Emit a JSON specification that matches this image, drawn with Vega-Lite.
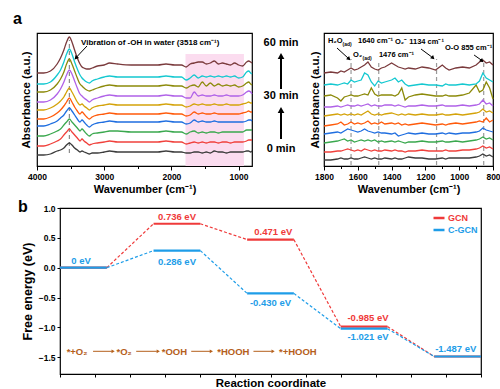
{
"$schema":"https://vega.github.io/schema/vega-lite/v6.json",
"padding":{"left":12,"top":10,"right":0,"bottom":0},
"config":{"font":"Liberation Sans","view":{"stroke":"#000","strokeWidth":1.2},
 "axis":{"labelFont":"Liberation Sans","titleFont":"Liberation Sans","labelFontWeight":"bold","titleFontWeight":"bold","labelColor":"#000","titleColor":"#000","tickColor":"#000","tickWidth":1,"domain":false,"grid":false,"labelFontSize":8.5,"titleFontSize":11.5,"labelFlush":false,"labelOverlap":false}},
"spacing":2,
"resolve":{"scale":{"color":"independent"},"legend":{"color":"independent"}},
"vconcat":[
{"hconcat":[
 {"width":215,"height":133,
  "encoding":{
   "x":{"field":"x","type":"quantitative","scale":{"domain":[800,4000],"reverse":true,"nice":false,"zero":false},
        "axis":{"title":"Wavenumber (cm⁻¹)","titleFontSize":11,"values":[1000,1500,2000,2500,3000,3500,4000],"format":"d","labelExpr":"datum.value % 1000 === 0 ? datum.label : ''","tickSize":{"condition":{"test":"datum.value % 1000 === 0","value":4},"value":2.5},"labelPadding":2,"titlePadding":3}},
   "y":{"field":"y","type":"quantitative","scale":{"domain":[0,133],"nice":false,"zero":false},
        "axis":{"title":"Absorbance (a.u.)","labels":false,"ticks":false,"minExtent":0,"titlePadding":6}}},
  "layer":[
   {"data":{"values":[{"x":1790,"x2":920,"y":0,"y2":112}]},"mark":{"type":"rect","color":"#fbdcef"},"encoding":{"x2":{"field":"x2"},"y2":{"field":"y2"}}},
   {"data":{"values":[{"x":3518,"y":13,"y2":126}]},"mark":{"type":"rule","color":"#8c8c8c","strokeDash":[4,3],"strokeWidth":1.2},"encoding":{"y2":{"field":"y2"}}},
   {"data":{"values":[
{"x":4000,"k0":11,"k1":20,"k2":30,"k3":40,"k4":47,"k5":56,"k6":64,"k7":74,"k8":82,"k9":93},
{"x":3900,"k0":11,"k1":20,"k2":30,"k3":40,"k4":47,"k5":56,"k6":64,"k7":74,"k8":82,"k9":93},
{"x":3800,"k0":12,"k1":22,"k2":32,"k3":42,"k4":49,"k5":58,"k6":66,"k7":76,"k8":84,"k9":95},
{"x":3700,"k0":15,"k1":25,"k2":35,"k3":45,"k4":53,"k5":62,"k6":72,"k7":82,"k8":91,"k9":102},
{"x":3650,"k0":16,"k1":27,"k2":37,"k3":48,"k4":56,"k5":65,"k6":77,"k7":87,"k8":96,"k9":108},
{"x":3600,"k0":18,"k1":31,"k2":41,"k3":51,"k4":60,"k5":69,"k6":84,"k7":94,"k8":104,"k9":116},
{"x":3560,"k0":21,"k1":34,"k2":44,"k3":55,"k4":64,"k5":74,"k6":91,"k7":102,"k8":112,"k9":124},
{"x":3518,"k0":23,"k1":37,"k2":47,"k3":58,"k4":68,"k5":78,"k6":96,"k7":107,"k8":117,"k9":129},
{"x":3480,"k0":21,"k1":34,"k2":44,"k3":55,"k4":64,"k5":74,"k6":92,"k7":102,"k8":112,"k9":124},
{"x":3440,"k0":18,"k1":31,"k2":41,"k3":51,"k4":59,"k5":69,"k6":85,"k7":95,"k8":104,"k9":116},
{"x":3400,"k0":16,"k1":28,"k2":38,"k3":47,"k4":55,"k5":64,"k6":78,"k7":88,"k8":97,"k9":108},
{"x":3360,"k0":14,"k1":25,"k2":35,"k3":44,"k4":52,"k5":61,"k6":72,"k7":82,"k8":91,"k9":102},
{"x":3330,"k0":15,"k1":27,"k2":37,"k3":46,"k4":54,"k5":62,"k6":70,"k7":80,"k8":88,"k9":99},
{"x":3300,"k0":14,"k1":25,"k2":35,"k3":44,"k4":52,"k5":60,"k6":68,"k7":78,"k8":86,"k9":98},
{"x":3260,"k0":13,"k1":23,"k2":32,"k3":41,"k4":49,"k5":58,"k6":66,"k7":76,"k8":84,"k9":97},
{"x":3220,"k0":12,"k1":21,"k2":30,"k3":39,"k4":47,"k5":56,"k6":64,"k7":75,"k8":83,"k9":97},
{"x":3180,"k0":13,"k1":22,"k2":32,"k3":41,"k4":49,"k5":58,"k6":66,"k7":76,"k8":85,"k9":98},
{"x":3100,"k0":13,"k1":23,"k2":33,"k3":43,"k4":51,"k5":60,"k6":68,"k7":78,"k8":87,"k9":100},
{"x":3000,"k0":14,"k1":24,"k2":34,"k3":44,"k4":52,"k5":61,"k6":70,"k7":80,"k8":89,"k9":101},
{"x":2920,"k0":15,"k1":25,"k2":35,"k3":45,"k4":53,"k5":62,"k6":71,"k7":81,"k8":90,"k9":103},
{"x":2800,"k0":14,"k1":24,"k2":35,"k3":44,"k4":52,"k5":61,"k6":70,"k7":80,"k8":89,"k9":102},
{"x":2600,"k0":14,"k1":24,"k2":34,"k3":44,"k4":52,"k5":61,"k6":70,"k7":80,"k8":89,"k9":101},
{"x":2400,"k0":14,"k1":24,"k2":34,"k3":44,"k4":52,"k5":61,"k6":70,"k7":80,"k8":89,"k9":101},
{"x":2200,"k0":14,"k1":24,"k2":34,"k3":44,"k4":52,"k5":61,"k6":70,"k7":80,"k8":89,"k9":101},
{"x":2080,"k0":15,"k1":25,"k2":35,"k3":45,"k4":53,"k5":62,"k6":71,"k7":81,"k8":90,"k9":102},
{"x":1950,"k0":14,"k1":24,"k2":34,"k3":44,"k4":52,"k5":61,"k6":70,"k7":80,"k8":89,"k9":101},
{"x":1850,"k0":14,"k1":24,"k2":34,"k3":44,"k4":52,"k5":61,"k6":70,"k7":80,"k8":89,"k9":101},
{"x":1780,"k0":13,"k1":22,"k2":32,"k3":42,"k4":50,"k5":59,"k6":68,"k7":78,"k8":86,"k9":99},
{"x":1720,"k0":13,"k1":23,"k2":34,"k3":43,"k4":51,"k5":60,"k6":68,"k7":80,"k8":88,"k9":102},
{"x":1660,"k0":14,"k1":24,"k2":35,"k3":46,"k4":54,"k5":62,"k6":74,"k7":81,"k8":91,"k9":103},
{"x":1600,"k0":14,"k1":23,"k2":33,"k3":44,"k4":52,"k5":61,"k6":70,"k7":79,"k8":88,"k9":104},
{"x":1540,"k0":13,"k1":24,"k2":34,"k3":45,"k4":53,"k5":62,"k6":71,"k7":84,"k8":90,"k9":104},
{"x":1480,"k0":14,"k1":23,"k2":33,"k3":44,"k4":52,"k5":61,"k6":70,"k7":80,"k8":89,"k9":102},
{"x":1420,"k0":13,"k1":24,"k2":34,"k3":44,"k4":52,"k5":61,"k6":70,"k7":83,"k8":90,"k9":103},
{"x":1360,"k0":15,"k1":24,"k2":34,"k3":45,"k4":53,"k5":62,"k6":71,"k7":80,"k8":89,"k9":105},
{"x":1300,"k0":14,"k1":23,"k2":33,"k3":44,"k4":52,"k5":61,"k6":70,"k7":82,"k8":90,"k9":102},
{"x":1240,"k0":14,"k1":24,"k2":34,"k3":44,"k4":52,"k5":61,"k6":70,"k7":80,"k8":89,"k9":103},
{"x":1180,"k0":13,"k1":24,"k2":34,"k3":44,"k4":52,"k5":62,"k6":71,"k7":81,"k8":90,"k9":102},
{"x":1120,"k0":14,"k1":23,"k2":34,"k3":44,"k4":52,"k5":61,"k6":70,"k7":80,"k8":89,"k9":101},
{"x":1060,"k0":14,"k1":24,"k2":34,"k3":44,"k4":52,"k5":61,"k6":70,"k7":81,"k8":90,"k9":103},
{"x":1000,"k0":14,"k1":24,"k2":34,"k3":44,"k4":52,"k5":61,"k6":70,"k7":79,"k8":88,"k9":101},
{"x":940,"k0":14,"k1":24,"k2":34,"k3":44,"k4":53,"k5":62,"k6":71,"k7":80,"k8":89,"k9":100},
{"x":880,"k0":15,"k1":25,"k2":36,"k3":45,"k4":54,"k5":63,"k6":74,"k7":83,"k8":94,"k9":104},
{"x":850,"k0":15,"k1":26,"k2":36,"k3":46,"k4":55,"k5":64,"k6":75,"k7":84,"k8":95,"k9":105},
{"x":820,"k0":14,"k1":26,"k2":36,"k3":46,"k4":54,"k5":63,"k6":74,"k7":82,"k8":93,"k9":104},
{"x":800,"k0":15,"k1":26,"k2":36,"k3":45,"k4":54,"k5":63,"k6":72,"k7":81,"k8":92,"k9":103}
   ]},
    "transform":[{"fold":["k0","k1","k2","k3","k4","k5","k6","k7","k8","k9"],"as":["s","y"]}],
    "mark":{"type":"line","strokeWidth":1.3,"interpolate":"monotone"},
    "encoding":{"color":{"field":"s","type":"nominal","legend":null,"scale":{"domain":["k0","k1","k2","k3","k4","k5","k6","k7","k8","k9"],"range":["#3c3c3c","#f0413c","#3aa84e","#1f6ee0","#ff5a0a","#d4a30a","#b062e8","#8c8a0a","#14c8d0","#7a3a3c"]}}}},
   {"data":{"values":[{"x":3345,"y":123,"t":"Vibration of -OH in water (3518 cm⁻¹)"}]},"mark":{"type":"text","align":"left","baseline":"middle","fontSize":8,"fontWeight":"bold","color":"#000"},"encoding":{"text":{"field":"t","type":"nominal"}}},
   {"data":{"values":[{"x":4357,"y":142,"t":"a"}]},"mark":{"type":"text","align":"left","baseline":"alphabetic","fontSize":16,"fontWeight":"bold","color":"#000"},"encoding":{"text":{"field":"t","type":"nominal"}}},
   {"data":{"values":[{"x":368,"y":123,"t":"60 min"},{"x":368,"y":70,"t":"30 min"},{"x":368,"y":17,"t":"0 min"}]},"mark":{"type":"text","align":"center","baseline":"middle","fontSize":11,"fontWeight":"bold","color":"#000"},"encoding":{"text":{"field":"t","type":"nominal"}}},
   {"data":{"values":[{"x":3256,"y":120,"x2":3410,"y2":109}]},"mark":{"type":"rule","color":"#000","strokeWidth":1},"encoding":{"x2":{"field":"x2"},"y2":{"field":"y2"}}},
   {"data":{"values":[{"x":3420,"y":108}]},"mark":{"type":"point","shape":"triangle-up","filled":true,"color":"#000","opacity":1,"size":22,"angle":222},"encoding":{}},
   {"data":{"values":[{"x":368,"y":77,"x2":368,"y2":108},{"x":368,"y":27,"x2":368,"y2":54}]},"mark":{"type":"rule","color":"#000","strokeWidth":2},"encoding":{"x2":{"field":"x2"},"y2":{"field":"y2"}}},
   {"data":{"values":[{"x":368,"y":110},{"x":368,"y":56}]},"mark":{"type":"point","shape":"triangle-up","filled":true,"color":"#000","opacity":1,"size":45},"encoding":{}}
  ]},
 {"width":169,"height":133,
  "encoding":{
   "x":{"field":"x","type":"quantitative","scale":{"domain":[800,1800],"reverse":true,"nice":false,"zero":false},
        "axis":{"title":"Wavenumber (cm⁻¹)","titleFontSize":11,"values":[800,900,1000,1100,1200,1300,1400,1500,1600,1700,1800],"format":"d","labelExpr":"datum.value % 200 === 0 ? datum.label : ''","tickSize":{"condition":{"test":"datum.value % 200 === 0","value":4},"value":2.5},"labelPadding":2,"titlePadding":3}},
   "y":{"field":"y","type":"quantitative","scale":{"domain":[0,133],"nice":false,"zero":false},
        "axis":{"title":"Absorbance (a.u.)","labels":false,"ticks":false,"minExtent":0,"titlePadding":4}}},
  "layer":[
   {"data":{"values":[{"x":1640,"y":1,"y2":107},{"x":1476,"y":1,"y2":105},{"x":1134,"y":1,"y2":107},{"x":855,"y":1,"y2":105}]},"mark":{"type":"rule","color":"#9a9a9a","strokeDash":[4,3],"strokeWidth":1.2},"encoding":{"y2":{"field":"y2"}}},
   {"data":{"values":[
{"x":1800,"k0":6,"k1":14,"k2":23,"k3":32,"k4":40,"k5":50,"k6":59,"k7":70,"k8":81,"k9":93},
{"x":1760,"k0":6,"k1":14,"k2":24,"k3":33,"k4":41,"k5":51,"k6":59,"k7":71,"k8":82,"k9":94},
{"x":1720,"k0":7,"k1":15,"k2":25,"k3":34,"k4":42,"k5":52,"k6":60,"k7":68,"k8":81,"k9":93},
{"x":1700,"k0":8,"k1":15,"k2":26,"k3":33,"k4":44,"k5":51,"k6":59,"k7":65,"k8":82,"k9":95},
{"x":1680,"k0":7,"k1":16,"k2":27,"k3":35,"k4":41,"k5":52,"k6":60,"k7":69,"k8":83,"k9":94},
{"x":1660,"k0":7,"k1":17,"k2":25,"k3":37,"k4":42,"k5":51,"k6":61,"k7":70,"k8":82,"k9":96},
{"x":1640,"k0":8,"k1":16,"k2":26,"k3":36,"k4":44,"k5":52,"k6":60,"k7":71,"k8":86,"k9":98},
{"x":1620,"k0":7,"k1":15,"k2":24,"k3":35,"k4":42,"k5":51,"k6":60,"k7":70,"k8":84,"k9":96},
{"x":1600,"k0":7,"k1":16,"k2":25,"k3":34,"k4":43,"k5":52,"k6":61,"k7":70,"k8":85,"k9":97},
{"x":1580,"k0":8,"k1":15,"k2":26,"k3":35,"k4":42,"k5":51,"k6":60,"k7":71,"k8":86,"k9":99},
{"x":1560,"k0":9,"k1":17,"k2":25,"k3":37,"k4":43,"k5":53,"k6":61,"k7":72,"k8":93,"k9":101},
{"x":1540,"k0":8,"k1":16,"k2":26,"k3":35,"k4":45,"k5":55,"k6":62,"k7":71,"k8":91,"k9":104},
{"x":1520,"k0":7,"k1":15,"k2":25,"k3":34,"k4":42,"k5":52,"k6":60,"k7":78,"k8":84,"k9":99},
{"x":1500,"k0":8,"k1":16,"k2":26,"k3":33,"k4":43,"k5":51,"k6":61,"k7":72,"k8":80,"k9":97},
{"x":1480,"k0":7,"k1":15,"k2":24,"k3":34,"k4":42,"k5":52,"k6":60,"k7":70,"k8":85,"k9":96},
{"x":1460,"k0":7,"k1":15,"k2":25,"k3":33,"k4":44,"k5":51,"k6":60,"k7":71,"k8":83,"k9":98},
{"x":1440,"k0":8,"k1":16,"k2":24,"k3":33,"k4":42,"k5":52,"k6":61,"k7":71,"k8":84,"k9":99},
{"x":1400,"k0":7,"k1":15,"k2":25,"k3":32,"k4":43,"k5":53,"k6":61,"k7":71,"k8":86,"k9":103},
{"x":1380,"k0":8,"k1":16,"k2":24,"k3":33,"k4":42,"k5":52,"k6":60,"k7":70,"k8":88,"k9":101},
{"x":1360,"k0":7,"k1":15,"k2":25,"k3":30,"k4":43,"k5":51,"k6":61,"k7":72,"k8":84,"k9":99},
{"x":1340,"k0":7,"k1":15,"k2":24,"k3":31,"k4":41,"k5":52,"k6":60,"k7":78,"k8":86,"k9":98},
{"x":1320,"k0":8,"k1":14,"k2":23,"k3":32,"k4":42,"k5":51,"k6":59,"k7":66,"k8":82,"k9":97},
{"x":1300,"k0":9,"k1":15,"k2":24,"k3":33,"k4":41,"k5":52,"k6":60,"k7":69,"k8":80,"k9":98},
{"x":1260,"k0":8,"k1":15,"k2":24,"k3":32,"k4":42,"k5":51,"k6":60,"k7":71,"k8":81,"k9":97},
{"x":1220,"k0":8,"k1":16,"k2":25,"k3":33,"k4":43,"k5":52,"k6":61,"k7":72,"k8":82,"k9":99},
{"x":1180,"k0":7,"k1":15,"k2":24,"k3":32,"k4":42,"k5":51,"k6":60,"k7":71,"k8":81,"k9":98},
{"x":1140,"k0":7,"k1":15,"k2":24,"k3":32,"k4":41,"k5":51,"k6":60,"k7":70,"k8":81,"k9":96},
{"x":1100,"k0":8,"k1":15,"k2":25,"k3":33,"k4":42,"k5":52,"k6":61,"k7":70,"k8":80,"k9":101},
{"x":1080,"k0":7,"k1":16,"k2":24,"k3":32,"k4":41,"k5":51,"k6":60,"k7":71,"k8":82,"k9":98},
{"x":1060,"k0":8,"k1":15,"k2":24,"k3":33,"k4":42,"k5":51,"k6":60,"k7":70,"k8":81,"k9":96},
{"x":1020,"k0":8,"k1":15,"k2":25,"k3":32,"k4":43,"k5":52,"k6":60,"k7":70,"k8":81,"k9":98},
{"x":980,"k0":8,"k1":16,"k2":24,"k3":33,"k4":42,"k5":51,"k6":61,"k7":71,"k8":82,"k9":99},
{"x":940,"k0":8,"k1":16,"k2":25,"k3":33,"k4":43,"k5":52,"k6":60,"k7":73,"k8":81,"k9":98},
{"x":900,"k0":9,"k1":17,"k2":26,"k3":34,"k4":44,"k5":53,"k6":61,"k7":81,"k8":82,"k9":101},
{"x":880,"k0":10,"k1":18,"k2":27,"k3":35,"k4":45,"k5":54,"k6":62,"k7":74,"k8":85,"k9":104},
{"x":860,"k0":12,"k1":20,"k2":29,"k3":38,"k4":44,"k5":57,"k6":66,"k7":76,"k8":93,"k9":106},
{"x":840,"k0":10,"k1":18,"k2":27,"k3":36,"k4":48,"k5":54,"k6":62,"k7":84,"k8":88,"k9":103},
{"x":820,"k0":11,"k1":19,"k2":28,"k3":35,"k4":44,"k5":55,"k6":63,"k7":78,"k8":86,"k9":104},
{"x":800,"k0":9,"k1":17,"k2":26,"k3":34,"k4":46,"k5":53,"k6":60,"k7":67,"k8":84,"k9":101}
   ]},
    "transform":[{"fold":["k0","k1","k2","k3","k4","k5","k6","k7","k8","k9"],"as":["s","y"]}],
    "mark":{"type":"line","strokeWidth":1.3},
    "encoding":{"color":{"field":"s","type":"nominal","legend":null,"scale":{"domain":["k0","k1","k2","k3","k4","k5","k6","k7","k8","k9"],"range":["#3c3c3c","#f0413c","#3aa84e","#1f6ee0","#ff5a0a","#d4a30a","#b062e8","#8c8a0a","#14c8d0","#7a3a3c"]}}}},
   {"data":{"values":[{"x":1776,"y":125,"t":"H₂O"},{"x":1599,"y":125,"t":"1640 cm⁻¹"},{"x":1628,"y":111,"t":"O₂"},{"x":1475,"y":111,"t":"1476 cm⁻¹"},{"x":1380,"y":124,"t":"O₂⁻ 1134 cm⁻¹"},{"x":1084,"y":118,"t":"O-O 855 cm⁻¹"}]},"mark":{"type":"text","align":"left","baseline":"middle","fontSize":7.5,"fontWeight":"bold","color":"#000"},"encoding":{"text":{"field":"t","type":"nominal"}}},
   {"data":{"values":[{"x":1690,"y":122,"t":"(ad)"},{"x":1572,"y":108,"t":"(ad)"}]},"mark":{"type":"text","align":"left","baseline":"middle","fontSize":5,"fontWeight":"bold","color":"#000"},"encoding":{"text":{"field":"t","type":"nominal"}}},
   {"data":{"values":[{"x":1723,"y":118,"x2":1658,"y2":108},{"x":1226,"y":117,"x2":1162,"y2":109},{"x":912,"y":111,"x2":870,"y2":106}]},"mark":{"type":"rule","color":"#000","strokeWidth":1},"encoding":{"x2":{"field":"x2"},"y2":{"field":"y2"}}},
   {"data":{"values":[{"x":1652,"y":107},{"x":1155,"y":108},{"x":865,"y":105}]},"mark":{"type":"point","shape":"triangle-up","filled":true,"color":"#000","opacity":1,"size":20,"angle":133},"encoding":{}}
  ]}
 ],"bounds":"flush","spacing":72},
{"hconcat":[
 {"width":1,"height":1,"view":{"stroke":null},"data":{"values":[]},"mark":"point"},
 {"width":421,"height":166,
 "encoding":{
  "x":{"field":"x","type":"quantitative","scale":{"domain":[0,6],"nice":false,"zero":false},
       "axis":{"title":"Reaction coordinate","titleFontSize":11.5,"values":[0,0.5,1,1.5,2,2.5,3,3.5,4,4.5,5,5.5,6],"labels":false,"tickSize":3,"titlePadding":0}},
  "y":{"field":"y","type":"quantitative","scale":{"domain":[-1.78,1.0],"nice":false,"zero":false},
       "axis":{"title":"Free energy (eV)","titleFontSize":12.5,"values":[-1.5,-1,-0.5,0,0.5,1],"format":".1f","tickSize":3,"labelPadding":2,"titlePadding":4,"minExtent":0}}},
 "layer":[
  {"data":{"values":[
   {"s":"GCN","x":0,"x2":0.667,"y":0},{"s":"GCN","x":1.333,"x2":2,"y":0.736},{"s":"GCN","x":2.667,"x2":3.333,"y":0.471},{"s":"GCN","x":4,"x2":4.667,"y":-0.985},{"s":"GCN","x":5.333,"x2":6,"y":-1.487},
   {"s":"C-GCN","x":0,"x2":0.667,"y":0},{"s":"C-GCN","x":1.333,"x2":2,"y":0.286},{"s":"C-GCN","x":2.667,"x2":3.333,"y":-0.43},{"s":"C-GCN","x":4,"x2":4.667,"y":-1.021},{"s":"C-GCN","x":5.333,"x2":6,"y":-1.487}]},
   "mark":{"type":"rule","strokeWidth":2.2},
   "encoding":{"x2":{"field":"x2"},"color":{"field":"s","type":"nominal","scale":{"domain":["GCN","C-GCN"],"range":["#ef3a3a","#1e9de8"]},
     "legend":{"title":null,"orient":"top-right","offset":3,"padding":0,"symbolType":"stroke","symbolStrokeWidth":2.5,"symbolSize":121,"labelFontSize":9,"labelFontWeight":"bold","labelFont":"Liberation Sans","rowPadding":0,"labelOffset":2,
      "encode":{"labels":{"update":{"fill":{"signal":"datum.label === 'GCN' ? '#ef3a3a' : '#1e9de8'"}}}}}}}},
  {"data":{"values":[{"x":0.667,"y":0,"x2":1.333,"y2":0.736},{"x":2,"y":0.736,"x2":2.667,"y2":0.471},{"x":3.333,"y":0.471,"x2":4,"y2":-0.985},{"x":4.667,"y":-0.985,"x2":5.333,"y2":-1.487}]},
   "mark":{"type":"rule","color":"#ef3a3a","strokeDash":[3,2],"strokeWidth":1.2},"encoding":{"x2":{"field":"x2"},"y2":{"field":"y2"}}},
  {"data":{"values":[{"x":0.667,"y":0,"x2":1.333,"y2":0.286},{"x":2,"y":0.286,"x2":2.667,"y2":-0.43},{"x":3.333,"y":-0.43,"x2":4,"y2":-1.021},{"x":4.667,"y":-1.021,"x2":5.333,"y2":-1.487}]},
   "mark":{"type":"rule","color":"#1e9de8","strokeDash":[3,2],"strokeWidth":1.2},"encoding":{"x2":{"field":"x2"},"y2":{"field":"y2"}}},
  {"data":{"values":[{"x":1.667,"y":0.85,"t":"0.736 eV"},{"x":3.04,"y":0.6,"t":"0.471 eV"},{"x":4.39,"y":-0.85,"t":"-0.985 eV"}]},
   "mark":{"type":"text","color":"#ef3a3a","fontSize":9.5,"fontWeight":"bold","baseline":"middle"},"encoding":{"text":{"field":"t","type":"nominal"}}},
  {"data":{"values":[{"x":0.3,"y":0.117,"t":"0 eV"},{"x":1.667,"y":0.1,"t":"0.286 eV"},{"x":3.0,"y":-0.583,"t":"-0.430 eV"},{"x":4.39,"y":-1.167,"t":"-1.021 eV"},{"x":5.64,"y":-1.367,"t":"-1.487 eV"}]},
   "mark":{"type":"text","color":"#1e9de8","fontSize":9.5,"fontWeight":"bold","baseline":"middle"},"encoding":{"text":{"field":"t","type":"nominal"}}},
  {"data":{"values":[{"x":0.243,"y":-1.417,"t":"*+O₂"},{"x":0.914,"y":-1.417,"t":"*O₂"},{"x":1.63,"y":-1.417,"t":"*OOH"},{"x":2.47,"y":-1.417,"t":"*HOOH"},{"x":3.39,"y":-1.417,"t":"*+HOOH"}]},
   "mark":{"type":"text","color":"#b5601c","fontSize":9.5,"fontWeight":"bold","baseline":"middle"},"encoding":{"text":{"field":"t","type":"nominal"}}},
  {"data":{"values":[{"x":0.471,"x2":0.74,"y":-1.4},{"x":1.086,"x2":1.38,"y":-1.4},{"x":1.87,"x2":2.14,"y":-1.4},{"x":2.757,"x2":3.02,"y":-1.4}]},
   "mark":{"type":"rule","color":"#b5601c","strokeWidth":1},"encoding":{"x2":{"field":"x2"}}},
  {"data":{"values":[{"x":0.757,"y":-1.4},{"x":1.4,"y":-1.4},{"x":2.157,"y":-1.4},{"x":3.037,"y":-1.4}]},
   "mark":{"type":"point","shape":"triangle-right","filled":true,"color":"#b5601c","opacity":1,"size":14},"encoding":{}},
  {"data":{"values":[{"x":-0.6,"y":0.933,"t":"b"}]},"mark":{"type":"text","align":"left","baseline":"alphabetic","fontSize":16,"fontWeight":"bold","color":"#000"},"encoding":{"text":{"field":"t","type":"nominal"}}}
 ]}
 ],"bounds":"flush","spacing":22,"resolve":{"scale":{"color":"independent"},"legend":{"color":"independent"}}}
]}
